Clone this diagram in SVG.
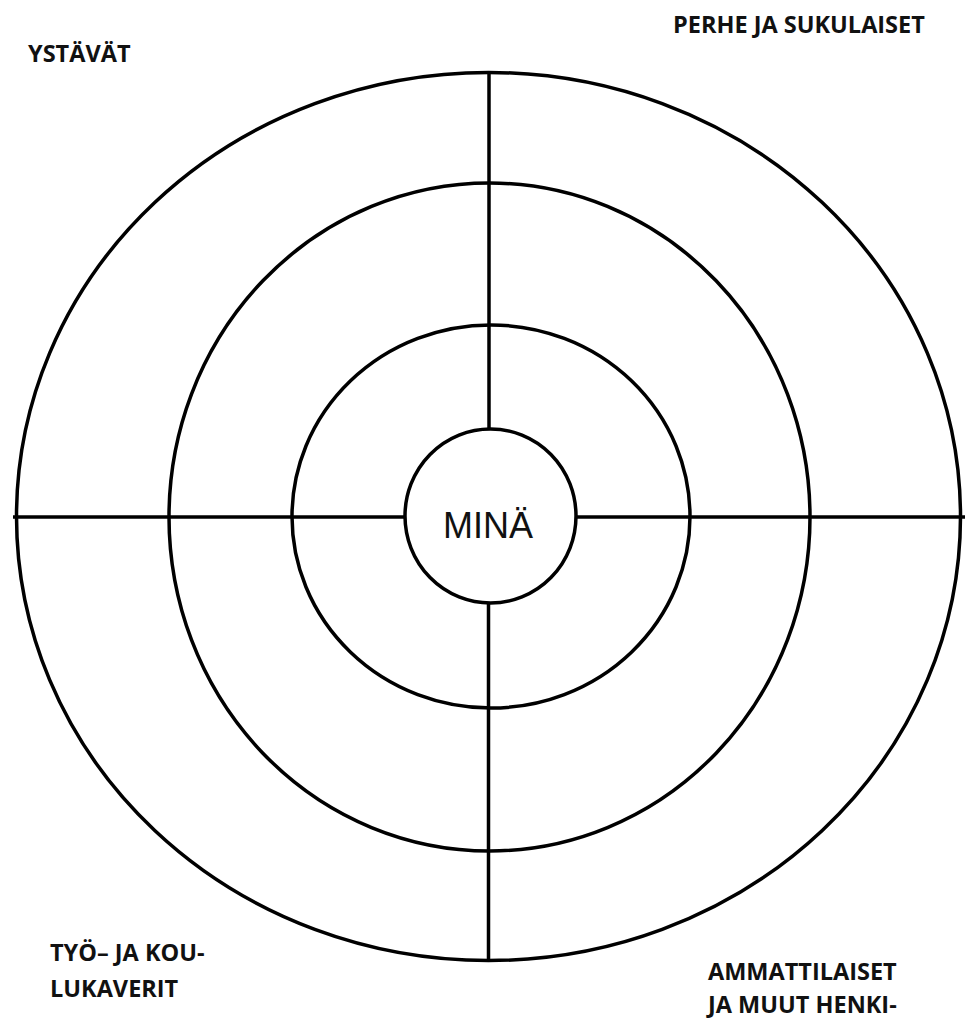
<svg xmlns="http://www.w3.org/2000/svg" width="965" height="1021" viewBox="0 0 965 1021">
<style>
.ring{fill:none;stroke:#000;stroke-width:3.5}
.ln{stroke:#000;stroke-width:3.5;fill:none}
.lbl{font-family:"Open Sans","Liberation Sans",sans-serif;font-weight:700;font-size:23.5px;fill:#111}
.me{font-family:"Liberation Sans",Arial,sans-serif;font-size:36px;fill:#111}
</style>
<rect width="965" height="1021" fill="#fff"/>
<g id="rings">
<ellipse id="ring-outer" class="ring" cx="488.5" cy="516.5" rx="472" ry="444"/>
<ellipse id="ring-2" class="ring" cx="489.5" cy="517" rx="320.5" ry="334"/>
<ellipse id="ring-3" class="ring" cx="491" cy="516.5" rx="199" ry="191.5"/>
</g>
<g id="connectors">
<line class="ln" x1="489" y1="73" x2="489" y2="430"/>
<line class="ln" x1="488.5" y1="602" x2="488.5" y2="960"/>
<line class="ln" x1="13" y1="517" x2="405" y2="517"/>
<line class="ln" x1="576" y1="517" x2="965" y2="517"/>
</g>
<g id="node-mina">
<ellipse class="ring" cx="490.5" cy="516" rx="85.5" ry="87"/>
<text class="me" x="488" y="538" text-anchor="middle">MINÄ</text>
</g>
<g id="label-ystavat"><text class="lbl" x="28" y="62">YSTÄVÄT</text></g>
<g id="label-perhe"><text class="lbl" x="673" y="33">PERHE JA SUKULAISET</text></g>
<g id="label-tyo">
<text class="lbl" x="50" y="961">TYÖ– JA KOU-</text>
<text class="lbl" x="50" y="997">LUKAVERIT</text>
</g>
<g id="label-ammatti">
<text class="lbl" x="708" y="980">AMMATTILAISET</text>
<text class="lbl" x="708" y="1013">JA MUUT HENKI-</text>
</g>
</svg>
